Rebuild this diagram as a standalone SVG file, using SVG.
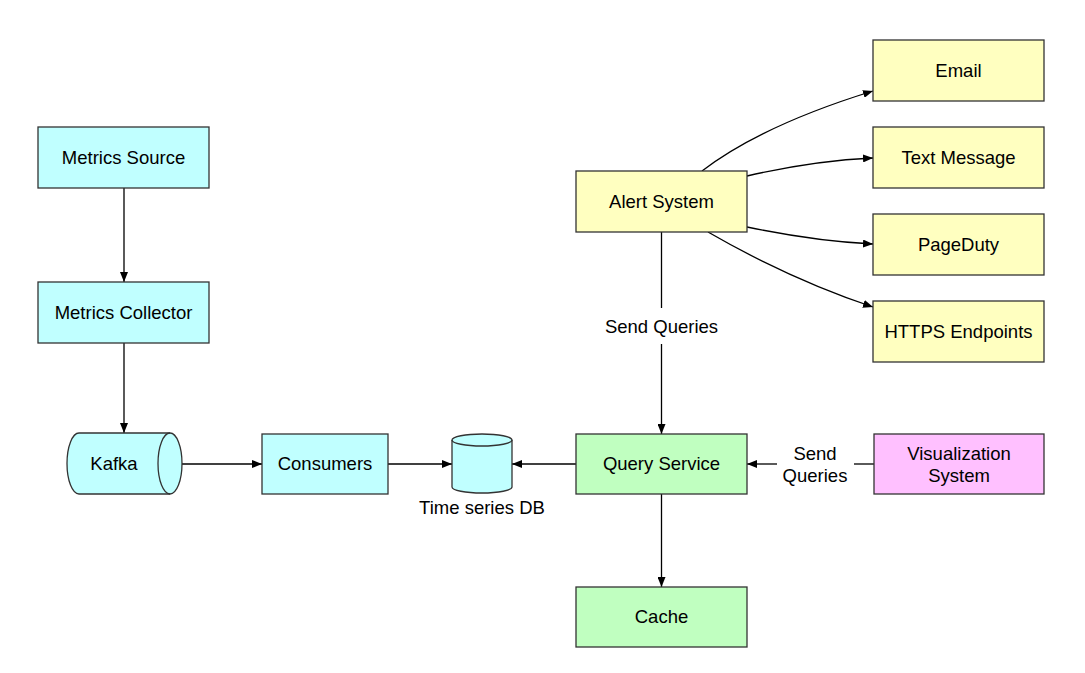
<svg xmlns="http://www.w3.org/2000/svg" width="1085" height="673" viewBox="0 0 1085 673">
<style>
.box{stroke:#333;stroke-width:1.3}
.cy{fill:#c0ffff}
.ye{fill:#ffffc0}
.gr{fill:#c0ffc0}
.mg{fill:#ffc0ff}
text{font-family:"Liberation Sans",Arial,sans-serif;font-size:18.5px;fill:#000;text-anchor:middle}
.edge{fill:none;stroke:#000;stroke-width:1.3}
</style>
<defs>
<marker id="ah" markerWidth="10" markerHeight="8" refX="10" refY="4" orient="auto" markerUnits="userSpaceOnUse">
<path d="M0,0 L10,4 L0,8 Z" fill="#000"/>
</marker>
</defs>
<rect width="1085" height="673" fill="#fff"/>
<g id="connectors">
<path class="edge" d="M124,188 L124,282" marker-end="url(#ah)"/>
<path class="edge" d="M124,343 L124,433" marker-end="url(#ah)"/>
<path class="edge" d="M182,464 L262,464" marker-end="url(#ah)"/>
<path class="edge" d="M388,464 L452,464" marker-end="url(#ah)"/>
<path class="edge" d="M576,464 L512,464" marker-end="url(#ah)"/>
<path class="edge" d="M874,464 L854,464"/>
<path class="edge" d="M777,464 L747,464" marker-end="url(#ah)"/>
<path class="edge" d="M661.5,232 L661.5,308"/>
<path class="edge" d="M661.5,344 L661.5,434" marker-end="url(#ah)"/>
<path class="edge" d="M661.5,494 L661.5,587" marker-end="url(#ah)"/>
<path class="edge" d="M702,171 C745,138 805,112 873,91" marker-end="url(#ah)"/>
<path class="edge" d="M747,176 C790,166 830,160 873,158" marker-end="url(#ah)"/>
<path class="edge" d="M747,227 C790,236 830,242 873,244" marker-end="url(#ah)"/>
<path class="edge" d="M708,232 C760,262 810,286 873,307" marker-end="url(#ah)"/>
<text x="661.5" y="332.5">Send Queries</text>
<text x="815" y="459.5">Send</text>
<text x="815" y="481.5">Queries</text>
</g>
<g id="metrics-source"><rect class="box cy" x="38" y="127" width="171" height="61"/><text x="123.5" y="164">Metrics Source</text></g>
<g id="metrics-collector"><rect class="box cy" x="38" y="282" width="171" height="61"/><text x="123.5" y="319">Metrics Collector</text></g>
<g id="kafka">
<path class="box cy" d="M79,433 L170,433 A12,30.5 0 0 1 170,494 L79,494 A12,30.5 0 0 1 79,433 Z"/>
<path class="box" fill="none" d="M170,433 A12,30.5 0 0 0 170,494"/>
<text x="114" y="470">Kafka</text>
</g>
<g id="consumers"><rect class="box cy" x="262" y="434" width="126" height="60"/><text x="325" y="470">Consumers</text></g>
<g id="tsdb">
<path class="box cy" d="M452,440 A30,6 0 0 1 512,440 L512,487 A30,6 0 0 1 452,487 Z"/>
<path class="box" fill="none" d="M452,440 A30,6 0 0 0 512,440"/>
<text x="482" y="513.5">Time series DB</text>
</g>
<g id="query-service"><rect class="box gr" x="576" y="434" width="171" height="60"/><text x="661.5" y="470">Query Service</text></g>
<g id="cache"><rect class="box gr" x="576" y="587" width="171" height="60"/><text x="661.5" y="623">Cache</text></g>
<g id="visualization"><rect class="box mg" x="874" y="434" width="170" height="60"/><text x="959" y="459.5">Visualization</text><text x="959" y="481.5">System</text></g>
<g id="alert-system"><rect class="box ye" x="576" y="171" width="171" height="61"/><text x="661.5" y="208">Alert System</text></g>
<g id="email"><rect class="box ye" x="873" y="40" width="171" height="61"/><text x="958.5" y="77">Email</text></g>
<g id="text-message"><rect class="box ye" x="873" y="127" width="171" height="61"/><text x="958.5" y="164">Text Message</text></g>
<g id="pageduty"><rect class="box ye" x="873" y="214" width="171" height="61"/><text x="958.5" y="251">PageDuty</text></g>
<g id="https"><rect class="box ye" x="873" y="301" width="171" height="61"/><text x="958.5" y="338">HTTPS Endpoints</text></g>
</svg>
